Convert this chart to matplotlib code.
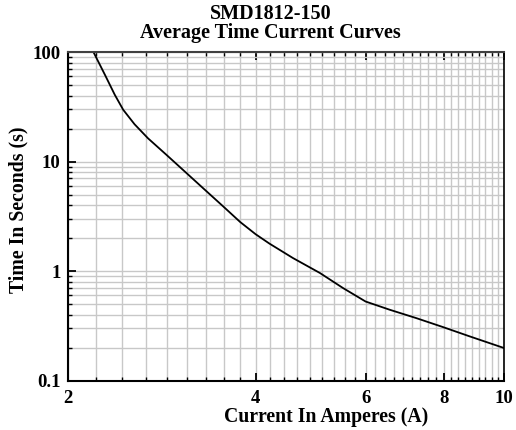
import matplotlib.pyplot as plt
from matplotlib.ticker import FixedLocator, FixedFormatter, LogLocator, NullFormatter
import numpy as np

plt.rcParams['font.family'] = ['Liberation Serif', 'DejaVu Serif']
plt.rcParams['font.weight'] = 'bold'

# curve
current = [2.20, 2.295, 2.38, 2.455, 2.56, 2.69, 2.88, 3.10, 3.32, 3.55,
           3.78, 4.0, 4.21, 4.59, 5.07, 5.52, 6.0, 6.56, 7.23, 7.98,
           8.81, 10.0]
seconds = [100, 62, 40.7, 29.7, 21.9, 16.3, 11.5, 7.85, 5.5, 3.89,
           2.80, 2.17, 1.78, 1.315, 0.96, 0.70, 0.527, 0.443, 0.372, 0.308,
           0.253, 0.198]

x_major = [2, 4, 6, 8, 10]
x_labels = ['2', '4', '6', '8', '10']
y_major = [0.1, 1, 10, 100]
y_labels = ['0.1', '1', '10', '100']

fig = plt.figure(figsize=(5.16, 4.30), dpi=100)
ax = fig.add_axes([0.131, 0.115, 0.846, 0.764])

ax.set_xscale('log')
ax.set_yscale('log')
ax.set_xlim(2, 10)
ax.set_ylim(0.1, 100)

# minor x lines every 2/9 A between the labelled ones
x_minor = [a + k * 2 / 9 for a in x_major[:-1] for k in range(1, 9)]
ax.xaxis.set_major_locator(FixedLocator(x_major))
ax.xaxis.set_major_formatter(FixedFormatter(x_labels))
ax.xaxis.set_minor_locator(FixedLocator(x_minor))
ax.xaxis.set_minor_formatter(NullFormatter())
ax.yaxis.set_major_locator(FixedLocator(y_major))
ax.yaxis.set_major_formatter(FixedFormatter(y_labels))
ax.yaxis.set_minor_locator(LogLocator(base=10, subs=np.arange(2, 10)))
ax.yaxis.set_minor_formatter(NullFormatter())

ax.grid(True, which='both', color='#c8c8c8', linewidth=1.0)
ax.set_axisbelow(True)

ax.plot(current, seconds, color='black', linewidth=1.3)

ax.tick_params(which='both', direction='in', top=True, right=False, labelsize=13.5)
ax.tick_params(axis='x', pad=7)
ax.tick_params(axis='y', pad=5)
ax.tick_params(which='major', length=6, width=1.3)
ax.tick_params(which='minor', length=3, width=1.0)
for s in ax.spines.values():
    s.set_linewidth(1.5)
ax.spines['top'].set_color('#404040')
ax.spines['right'].set_linewidth(1.2)

ax.set_title('SMD1812-150\nAverage Time Current Curves', fontsize=14.5, fontweight='bold',
             linespacing=0.95, pad=10, x=0.465)
ax.set_xlabel('Current In Amperes (A)', fontsize=14.2, fontweight='bold', labelpad=0, x=0.592)
ax.set_ylabel('Time In Seconds (s)', fontsize=14.2, fontweight='bold', labelpad=3, y=0.52)

fig.savefig('out.png', dpi=100)
